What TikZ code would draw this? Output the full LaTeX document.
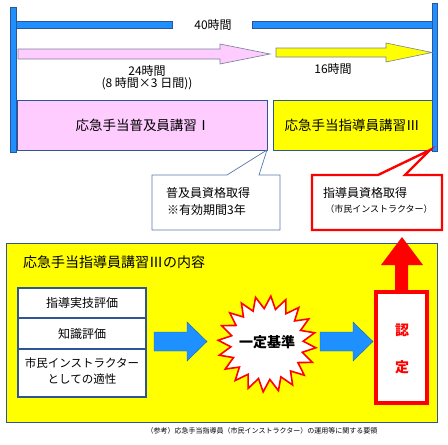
\documentclass[tikz,border=0pt]{standalone}
\usepackage{fontspec}
\setmainfont{Noto Sans CJK JP}
\definecolor{barblue}{RGB}{30,144,255}
\definecolor{bardark}{RGB}{47,85,151}
\definecolor{pinkf}{RGB}{255,204,255}
\definecolor{yel}{RGB}{255,255,0}
\definecolor{grayline}{RGB}{120,130,150}
\definecolor{calloutblue}{RGB}{90,120,170}
\definecolor{redc}{RGB}{255,0,0}
\newcommand{\fsz}[1]{\fontsize{#1pt}{\dimexpr #1pt*5/4\relax}\selectfont}
\begin{document}
\begin{tikzpicture}[x=1pt,y=-1pt,
  bluebar/.style={fill=barblue, draw=bardark, line width=0.6pt},
  coursebox/.style={draw=bardark, line width=0.7pt},
  lbl/.style={inner sep=0pt, text=black},
  redline/.style={draw=redc, line width=2.6pt, fill=white},
  fatarrow/.style={fill=barblue, draw=barblue!70!black, line width=0.4pt}
]
\useasboundingbox (0,0) rectangle (448,445);
% vertical bars
\draw[bluebar] (10,7) rectangle (16,152);
\draw[bluebar] (432,3) rectangle (437,151);
% horizontal 40h bar
\draw[bluebar] (16,21) rectangle (172,28);
\draw[bluebar] (252,21) rectangle (432,28);
\node[lbl, font=\fsz{12}] (h40) at (213,24.5) {40時間};
% pink arrow
\draw[fill=pinkf, draw=grayline, line width=0.6pt]
  (18,49) -- (220,49) -- (220,44) -- (270,54) -- (220,64) -- (220,59) -- (18,59) -- cycle;
% yellow arrow
\draw[fill=yel, draw=grayline, line width=0.6pt]
  (276,48) -- (386,48) -- (386,43) -- (432,52.5) -- (386,62) -- (386,57) -- (276,57) -- cycle;
\node[lbl, font=\fsz{12}] (h24) at (147,70.5) {24時間};
\node[lbl, font=\fsz{12}] (h24b) at (147,84) {(8 時間×3 日間))};
\node[lbl, font=\fsz{12}] (h16) at (333,68.5) {16時間};
% course boxes
\draw[coursebox, fill=pinkf] (17,100) rectangle (267,150);
\node[lbl, font=\fsz{13.5}] (c1) at (143,125) {応急手当普及員講習Ⅰ};
\draw[coursebox, fill=yel] (273,100) rectangle (432,150);
\node[lbl, font=\fsz{13.5}] (c3) at (352,125) {応急手当指導員講習Ⅲ};
% callout 1
\draw[fill=white, draw=calloutblue, line width=0.7pt]
  (152,175) -- (227,175) -- (267,150) -- (259,175) -- (280,175) -- (280,230) -- (152,230) -- cycle;
\node[lbl, font=\fsz{12}, align=left] (q1) at (208,193) {普及員資格取得};
\node[lbl, font=\fsz{12}, anchor=west] (q1b) at (167,210) {※有効期間3年};
% callout 2
\draw[redline, line width=2.4pt]
  (312,175) -- (378,175) -- (430,150) -- (405,175) -- (442,175) -- (442,230) -- (312,230) -- cycle;
\node[lbl, font=\fsz{12}] (q3) at (365,193) {指導員資格取得};
\node[lbl, font=\fsz{9}] (q3b) at (379,209) {（市民インストラクター）};
% bottom yellow panel
\draw[fill=yel, draw=bardark, line width=0.6pt] (6,243) rectangle (437,422);
\node[lbl, font=\fsz{14}, anchor=west] (title) at (23,262.5) {応急手当指導員講習Ⅲの内容};
% stacked boxes
\draw[fill=white, draw=bardark, line width=2.8pt] (18,288) rectangle (146,397);
\draw[draw=bardark, line width=2.8pt] (18,318) -- (146,318);
\draw[draw=bardark, line width=2.8pt] (18,349) -- (146,349);
\node[lbl, font=\fsz{12}] (e1) at (82,303) {指導実技評価};
\node[lbl, font=\fsz{12}] (e2) at (82,334) {知識評価};
\node[lbl, font=\fsz{11.5}] (e3) at (82,363.5) {市民インストラクター};
\node[lbl, font=\fsz{11.5}] (e4) at (82,379.5) {としての適性};
% blue arrow 1
\draw[fatarrow] (154,332) -- (187,332) -- (187,322) -- (207,341.5) -- (187,361) -- (187,351) -- (154,351) -- cycle;
% starburst
\draw[fill=white, draw=redc, line width=1.6pt]
  plot[samples at={0,...,39}, variable=\i]
  ({267+49*(mod(\i,2)==0 ? 1 : 0.74)*cos(\i*9+4.5)}, {344+48*(mod(\i,2)==0 ? 1 : 0.74)*sin(\i*9+4.5)}) -- cycle;
\node[lbl, font=\fsz{14}\bfseries] (kijun) at (267,342) {一定基準};
% blue arrow 2
\draw[fatarrow] (320,332) -- (353,332) -- (353,322) -- (373,341.5) -- (353,361) -- (353,351) -- (320,351) -- cycle;
% nintei box
\draw[redline, line width=3.4pt] (376,292) rectangle (427,403);
\node[lbl, font=\fsz{14}\bfseries, text=redc] (n1) at (402,330) {認};
\node[lbl, font=\fsz{14}\bfseries, text=redc] (n2) at (402,367) {定};
% red up arrow
\fill[redc] (395,290.5) -- (395,265) -- (381,265) -- (402,237) -- (423,265) -- (408,265) -- (408,290.5) -- cycle;
% caption
\node[lbl, font=\fsz{7}] (cap) at (262,431) {（参考）応急手当指導員（市民インストラクター）の運用等に関する要領};
\end{tikzpicture}
\end{document}
